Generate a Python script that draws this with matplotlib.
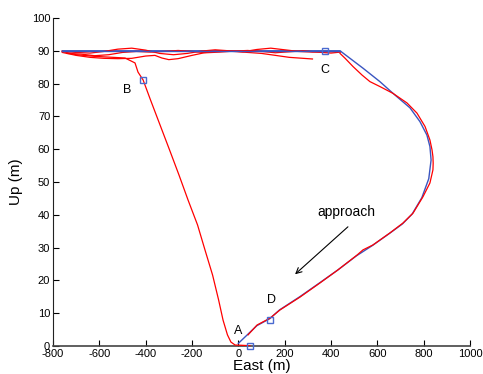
import matplotlib.pyplot as plt

plt.rcParams['font.family'] = ['Liberation Sans', 'DejaVu Sans']
plt.rcParams['axes.unicode_minus'] = False

# left branch (touchdown point up to B and along the top to the left end)
left_e = [50, -14, -32, -47, -66, -85, -111, -144, -176, -217, -256, -297, -338,
          -379, -411, -433, -446, -489, -540, -620, -700, -760]
left_u = [0.1, 0.3, 1.2, 3.4, 7.9, 14.0, 21.6, 29.3, 36.9, 44.5, 52.1, 59.8, 67.4,
          75, 81.1, 83.5, 86.3, 87.8, 88.0, 88.3, 88.8, 89.8]

# upper passes with small wiggles, left to right
top1_e = [-760, -700, -640, -580, -520, -460, -400, -340, -280, -220, -160, -100,
          -40, 20, 80, 140, 200, 260, 320, 380, 440]
top1_u = [89.8, 89.5, 89.3, 89.8, 90.5, 90.8, 90.2, 89.2, 88.8, 89.2, 89.9, 90.3,
          90.0, 89.7, 90.4, 90.8, 90.3, 89.8, 89.6, 89.7, 89.7]

top2_e = [-760, -700, -640, -580, -520, -460, -400, -360, -330, -300, -260, -200,
          -140, -80, -20, 40, 100, 160, 220, 280, 320]
top2_u = [89.5, 88.6, 88.0, 87.7, 87.6, 87.7, 88.4, 88.6, 87.8, 87.3, 87.6, 88.6,
          89.5, 90.0, 89.8, 89.5, 89.2, 88.6, 88.0, 87.7, 87.5]

top3_e = [-740, -680, -620, -560, -500, -440, -380, -320, -260, -200, -140, -80,
          -20, 40, 100, 160, 220, 280, 340, 400, 440]
top3_u = [89.2, 89.0, 88.5, 88.8, 89.5, 89.8, 89.6, 89.8, 90.1, 89.8, 89.4, 89.6,
          89.9, 90.1, 89.8, 89.4, 89.7, 90.0, 89.6, 89.3, 89.6]

# right branch (approach), top right down to A
right_e = [439, 461, 495, 534, 568, 611, 668, 728, 771, 806, 827, 836, 840, 841,
           840, 827, 797, 754, 711, 655, 581, 538, 512, 430, 352, 266, 180, 137,
           81, 42]
right_u = [89.2, 87.7, 85.2, 82.6, 80.6, 79.1, 77.0, 74.1, 71.0, 66.9, 62.8, 59.8,
           57.7, 55.7, 53.7, 49.7, 45.5, 40.5, 37.5, 34.5, 30.8, 29.3, 27.7, 23.2,
           19.2, 14.9, 11.0, 8.5, 6.4, 3.4]

# planned path (blue)
ref_e = [-760, 439, 538, 611, 668, 741, 784, 814, 827, 832, 822, 792, 750, 708,
         652, 578, 510, 428, 350, 265, 178, 135, 80, 40, 0]
ref_u = [90, 90, 84.7, 80.6, 77.0, 72.6, 68.4, 64.3, 60.8, 56.7, 51.0, 45.2,
         40.2, 37.2, 34.3, 30.6, 27.5, 23.1, 19.2, 15.0, 11.0, 8.3, 6.2, 3.5, 0.8]

# waypoints
wp_e = [50, -411, 374, 136]
wp_u = [0, 81.1, 90, 7.9]
wp_names = ['A', 'B', 'C', 'D']
name_e = [0, -480, 375, 145]
name_u = [4.5, 78, 84, 14]

fig = plt.figure(figsize=(4.83, 3.74), dpi=100)
ax = fig.add_axes([0.1097, 0.0749, 0.8634, 0.8770])

blue = '#3a55c0'
red = '#ff0000'
ax.plot(ref_e, ref_u, color=blue, lw=1.0, zorder=2)
ax.plot(top3_e, top3_u, color=red, lw=0.9, zorder=3)
ax.plot(top2_e, top2_u, color=red, lw=0.9, zorder=3)
ax.plot(top1_e, top1_u, color=red, lw=0.9, zorder=3)
ax.plot(left_e, left_u, color=red, lw=0.9, zorder=3)
ax.plot(right_e, right_u, color=red, lw=0.9, zorder=3)
ax.plot(ref_e[:2], ref_u[:2], color=blue, lw=1.0, zorder=4)
ax.plot(wp_e, wp_u, 's', ms=4, mfc='none', mec='#4a6ad0', mew=1.0,
        zorder=5, clip_on=False)

for n, x, y in zip(wp_names, name_e, name_u):
    ax.text(x, y, n, fontsize=9, ha='center', va='center')

ax.annotate('', xy=(236, 21.3), xytext=(482, 36.9),
            arrowprops=dict(arrowstyle='->', color='black', lw=0.8))
ax.text(465, 40.9, 'approach', fontsize=10, ha='center', va='center')

ax.set_xlim(-800, 1000)
ax.set_ylim(0, 100)
ax.set_xticks(range(-800, 1001, 200))
ax.set_yticks(range(0, 101, 10))
ax.tick_params(direction='in', length=4, labelsize=8, pad=2)
ax.spines['top'].set_visible(False)
ax.spines['right'].set_visible(False)
ax.spines['left'].set_color('#222222')
ax.spines['bottom'].set_color('#444444')
ax.spines['bottom'].set_linewidth(1.2)
ax.set_xlabel('East (m)', fontsize=11, labelpad=0)
ax.set_ylabel('Up (m)', fontsize=11, labelpad=6)

fig.savefig('out.png', dpi=100)
